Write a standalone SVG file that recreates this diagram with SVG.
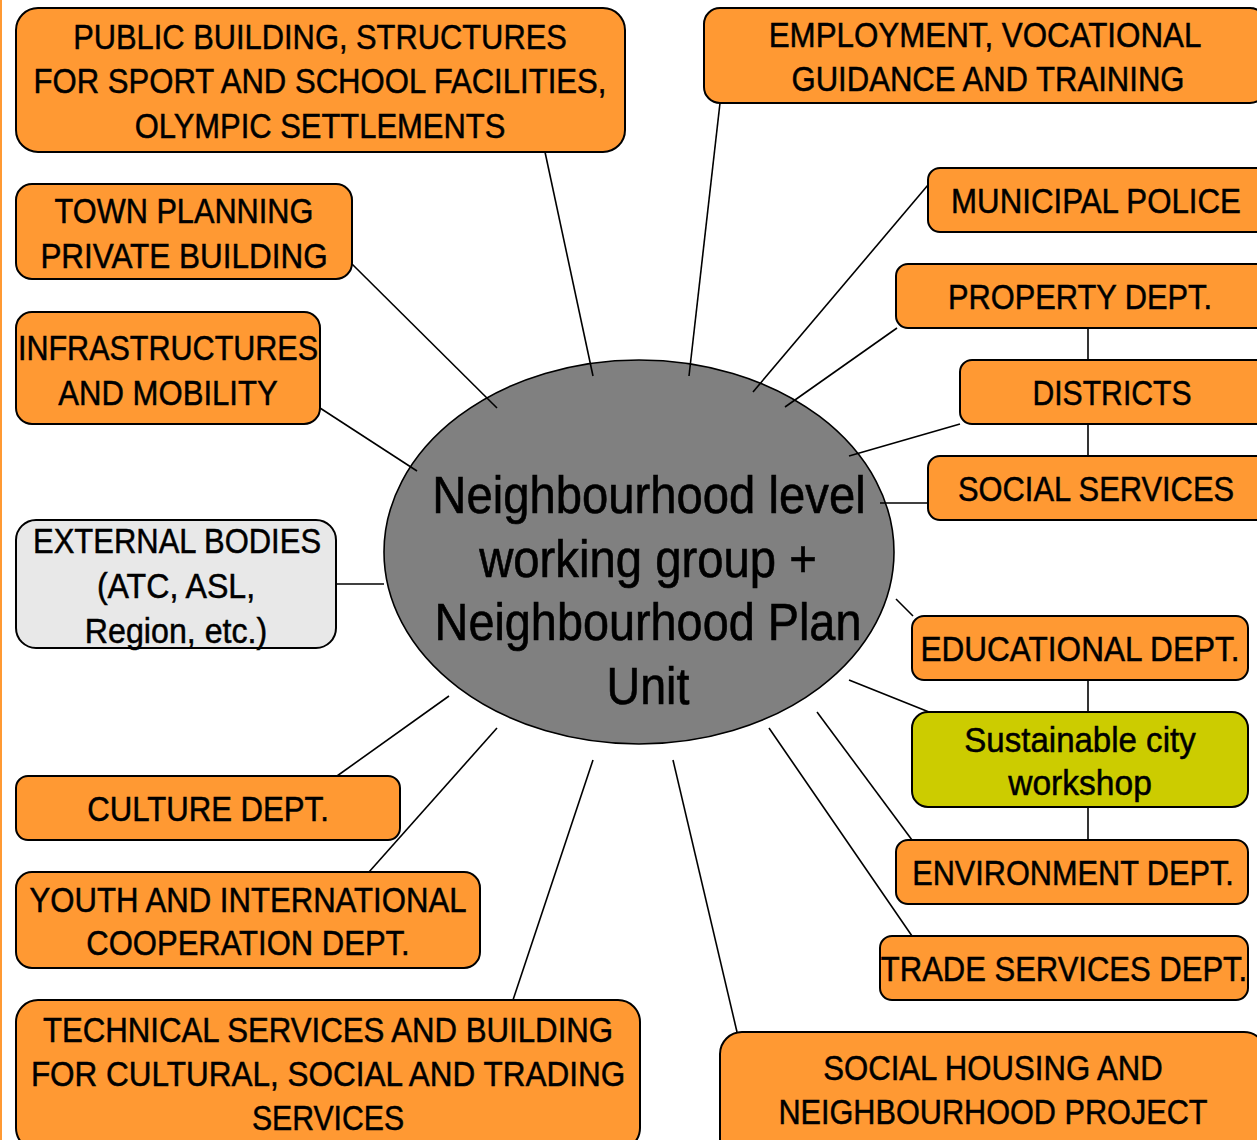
<svg xmlns="http://www.w3.org/2000/svg" width="1257" height="1140" viewBox="0 0 1257 1140">
<style>
.box{fill:#ff9933;stroke:#000;stroke-width:2}
.ext{fill:#e8e8e8;stroke:#000;stroke-width:2}
.grn{fill:#cccc00;stroke:#000;stroke-width:2}
.t{font-family:"Liberation Sans",Arial,sans-serif;font-size:35px;fill:#000;stroke:#000;stroke-width:0.5;text-anchor:middle}
.c{font-family:"Liberation Sans",Arial,sans-serif;font-size:51px;fill:#000;stroke:#000;stroke-width:0.6;text-anchor:middle}
.ln{stroke:#000;stroke-width:1.6;fill:none}
</style>
<rect x="0" y="0" width="2" height="1140" fill="#ff9933"/>
<g id="center">
<ellipse cx="639" cy="552" rx="255" ry="192" fill="#808080" stroke="#000" stroke-width="1.6"/>
<text class="c" transform="translate(649,513) scale(0.92,1)" textLength="471" lengthAdjust="spacingAndGlyphs">Neighbourhood level</text>
<text class="c" transform="translate(648,577) scale(0.92,1)" textLength="367" lengthAdjust="spacingAndGlyphs">working group +</text>
<text class="c" transform="translate(648,640) scale(0.92,1)" textLength="464" lengthAdjust="spacingAndGlyphs">Neighbourhood Plan</text>
<text class="c" transform="translate(648,704) scale(0.92,1)" textLength="90" lengthAdjust="spacingAndGlyphs">Unit</text>
</g>
<g id="connectors" class="ln">
<line x1="545" y1="152" x2="593" y2="376"/>
<line x1="720" y1="103" x2="689" y2="376"/>
<line x1="352" y1="264" x2="497" y2="408"/>
<line x1="928" y1="185" x2="753" y2="392"/>
<line x1="897" y1="328" x2="785" y2="407"/>
<line x1="960" y1="424" x2="849" y2="456"/>
<line x1="928" y1="503" x2="880" y2="503"/>
<line x1="320" y1="408" x2="417" y2="471"/>
<line x1="336" y1="584" x2="384" y2="584"/>
<line x1="896" y1="599" x2="913" y2="616"/>
<line x1="849" y1="680" x2="929" y2="712"/>
<line x1="817" y1="712" x2="912" y2="840"/>
<line x1="769" y1="728" x2="912" y2="936"/>
<line x1="673" y1="760" x2="737" y2="1032"/>
<line x1="593" y1="760" x2="513" y2="1000"/>
<line x1="497" y1="728" x2="369" y2="872"/>
<line x1="449" y1="696" x2="337" y2="776"/>
<line x1="1088" y1="328" x2="1088" y2="360"/>
<line x1="1088" y1="424" x2="1088" y2="456"/>
<line x1="1088" y1="680" x2="1088" y2="712"/>
<line x1="1088" y1="807" x2="1088" y2="840"/>
</g>
<g id="public-building">
<rect class="box" x="16" y="8" width="609" height="144" rx="22"/>
<text class="t" transform="translate(320,49) scale(0.86,1)" textLength="574" lengthAdjust="spacingAndGlyphs">PUBLIC BUILDING, STRUCTURES</text>
<text class="t" transform="translate(320,93) scale(0.86,1)" textLength="666" lengthAdjust="spacingAndGlyphs">FOR SPORT AND SCHOOL FACILITIES,</text>
<text class="t" transform="translate(320,138) scale(0.86,1)" textLength="431" lengthAdjust="spacingAndGlyphs">OLYMPIC SETTLEMENTS</text>
</g>
<g id="town-planning">
<rect class="box" x="16" y="184" width="336" height="95" rx="16"/>
<text class="t" transform="translate(184,223) scale(0.86,1)" textLength="301" lengthAdjust="spacingAndGlyphs">TOWN PLANNING</text>
<text class="t" transform="translate(184,268) scale(0.86,1)" textLength="334" lengthAdjust="spacingAndGlyphs">PRIVATE BUILDING</text>
</g>
<g id="infrastructures">
<rect class="box" x="16" y="312" width="304" height="112" rx="16"/>
<text class="t" transform="translate(168,360) scale(0.86,1)" textLength="349" lengthAdjust="spacingAndGlyphs">INFRASTRUCTURES</text>
<text class="t" transform="translate(168,405) scale(0.86,1)" textLength="255" lengthAdjust="spacingAndGlyphs">AND MOBILITY</text>
</g>
<g id="external-bodies">
<rect class="ext" x="16" y="520" width="320" height="128" rx="20"/>
<text class="t" transform="translate(177,553) scale(0.86,1)" textLength="335" lengthAdjust="spacingAndGlyphs">EXTERNAL BODIES</text>
<text class="t" transform="translate(176,598) scale(0.86,1)" textLength="184" lengthAdjust="spacingAndGlyphs">(ATC, ASL,</text>
<text class="t" transform="translate(176,643) scale(0.86,1)" textLength="212" lengthAdjust="spacingAndGlyphs">Region, etc.)</text>
</g>
<g id="culture">
<rect class="box" x="16" y="776" width="384" height="64" rx="12"/>
<text class="t" transform="translate(208,821) scale(0.86,1)" textLength="281" lengthAdjust="spacingAndGlyphs">CULTURE DEPT.</text>
</g>
<g id="youth">
<rect class="box" x="16" y="872" width="464" height="96" rx="16"/>
<text class="t" transform="translate(248,912) scale(0.86,1)" textLength="508" lengthAdjust="spacingAndGlyphs">YOUTH AND INTERNATIONAL</text>
<text class="t" transform="translate(248,955) scale(0.86,1)" textLength="376" lengthAdjust="spacingAndGlyphs">COOPERATION DEPT.</text>
</g>
<g id="technical">
<rect class="box" x="16" y="1000" width="624" height="150" rx="22"/>
<text class="t" transform="translate(328,1042) scale(0.86,1)" textLength="663" lengthAdjust="spacingAndGlyphs">TECHNICAL SERVICES AND BUILDING</text>
<text class="t" transform="translate(328,1086) scale(0.86,1)" textLength="691" lengthAdjust="spacingAndGlyphs">FOR CULTURAL, SOCIAL AND TRADING</text>
<text class="t" transform="translate(328,1130) scale(0.86,1)" textLength="177" lengthAdjust="spacingAndGlyphs">SERVICES</text>
</g>
<g id="social-housing">
<rect class="box" x="720" y="1032" width="546" height="130" rx="22"/>
<text class="t" transform="translate(993,1080) scale(0.86,1)" textLength="395" lengthAdjust="spacingAndGlyphs">SOCIAL HOUSING AND</text>
<text class="t" transform="translate(993,1124) scale(0.86,1)" textLength="499" lengthAdjust="spacingAndGlyphs">NEIGHBOURHOOD PROJECT</text>
</g>
<g id="employment">
<rect class="box" x="704" y="8" width="562" height="95" rx="16"/>
<text class="t" transform="translate(985,47) scale(0.86,1)" textLength="503" lengthAdjust="spacingAndGlyphs">EMPLOYMENT, VOCATIONAL</text>
<text class="t" transform="translate(988,91) scale(0.86,1)" textLength="457" lengthAdjust="spacingAndGlyphs">GUIDANCE AND TRAINING</text>
</g>
<g id="municipal-police">
<rect class="box" x="928" y="168" width="340" height="64" rx="12"/>
<text class="t" transform="translate(1096,213) scale(0.86,1)" textLength="337" lengthAdjust="spacingAndGlyphs">MUNICIPAL POLICE</text>
</g>
<g id="property">
<rect class="box" x="896" y="264" width="372" height="64" rx="12"/>
<text class="t" transform="translate(1080,309) scale(0.86,1)" textLength="307" lengthAdjust="spacingAndGlyphs">PROPERTY DEPT.</text>
</g>
<g id="districts">
<rect class="box" x="960" y="360" width="308" height="64" rx="12"/>
<text class="t" transform="translate(1112,405) scale(0.86,1)" textLength="185" lengthAdjust="spacingAndGlyphs">DISTRICTS</text>
</g>
<g id="social-services">
<rect class="box" x="928" y="456" width="340" height="64" rx="12"/>
<text class="t" transform="translate(1096,501) scale(0.86,1)" textLength="321" lengthAdjust="spacingAndGlyphs">SOCIAL SERVICES</text>
</g>
<g id="educational">
<rect class="box" x="912" y="616" width="336" height="64" rx="12"/>
<text class="t" transform="translate(1080,661) scale(0.86,1)" textLength="371" lengthAdjust="spacingAndGlyphs">EDUCATIONAL DEPT.</text>
</g>
<g id="sustainable-city">
<rect class="grn" x="912" y="712" width="336" height="95" rx="16"/>
<text class="t" transform="translate(1080,752) scale(0.86,1)" textLength="269" lengthAdjust="spacingAndGlyphs">Sustainable city</text>
<text class="t" transform="translate(1080,795) scale(0.86,1)" textLength="167" lengthAdjust="spacingAndGlyphs">workshop</text>
</g>
<g id="environment">
<rect class="box" x="896" y="840" width="352" height="64" rx="12"/>
<text class="t" transform="translate(1073,885) scale(0.86,1)" textLength="374" lengthAdjust="spacingAndGlyphs">ENVIRONMENT DEPT.</text>
</g>
<g id="trade-services">
<rect class="box" x="880" y="936" width="368" height="64" rx="12"/>
<text class="t" transform="translate(1064,981) scale(0.86,1)" textLength="426" lengthAdjust="spacingAndGlyphs">TRADE SERVICES DEPT.</text>
</g>
</svg>
